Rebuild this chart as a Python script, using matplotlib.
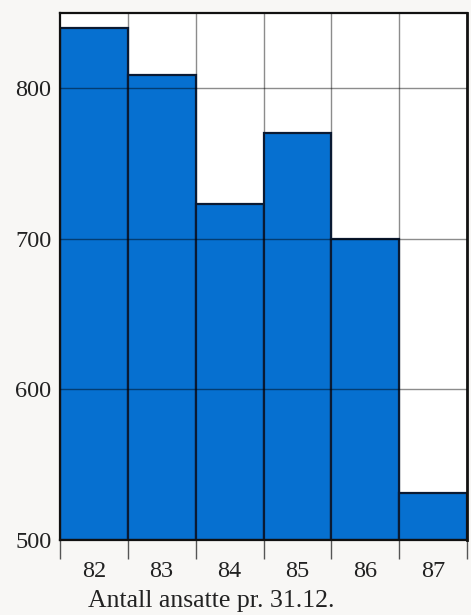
import matplotlib.pyplot as plt

# Antall ansatte pr. 31.12.
years = ["82", "83", "84", "85", "86", "87"]
employees = [840, 809, 723, 770, 700, 531]
yticks = [500, 600, 700, 800]

plt.rcParams['font.family'] = ['Liberation Serif', 'DejaVu Serif']

fig = plt.figure(figsize=(4.71, 6.15), dpi=100, facecolor='#f8f7f5')
ax = fig.add_axes([0.127, 0.122, 0.865, 0.857])
ax.set_facecolor('white')

x = list(range(len(years)))
ax.bar(x, [v - 500 for v in employees], bottom=500, width=1.0,
       color='#0670d0', edgecolor='#0a1a33', linewidth=1.6, zorder=2)

ax.set_xlim(-0.5, len(years) - 0.5)
ax.set_ylim(500, 850)

# grid drawn over the bars (shows dark on blue, grey on white)
ax.set_yticks(yticks)
ax.set_yticklabels([str(t) for t in yticks])
for t in yticks[1:]:
    ax.axhline(t, color='black', alpha=0.45, linewidth=1.0, zorder=3)
for b in range(1, len(years)):
    ax.axvline(b - 0.5, color='black', alpha=0.45, linewidth=1.0, zorder=1)

ax.set_xticks(x)
ax.set_xticklabels(years)
ax.set_xticks([b - 0.5 for b in range(len(years) + 1)], minor=True)
ax.tick_params(axis='x', which='major', length=0, pad=15, labelsize=17.5,
               labelcolor='#222222')
ax.tick_params(axis='x', which='minor', length=14, width=1.0, color='#555555')
ax.tick_params(axis='y', length=0, pad=6, labelsize=17.5, labelcolor='#222222')

for side in ['left', 'top', 'right', 'bottom']:
    ax.spines[side].set_color('#111111')
ax.spines['left'].set_linewidth(1.6)
ax.spines['top'].set_linewidth(1.6)
ax.spines['right'].set_linewidth(2.0)
ax.spines['bottom'].set_linewidth(1.6)

fig.text(88 / 471, 1 - 601 / 615, "Antall ansatte pr. 31.12.",
         fontsize=18.5, color='#222222', va='center', ha='left')

fig.savefig("out.png", dpi=100, facecolor=fig.get_facecolor())
